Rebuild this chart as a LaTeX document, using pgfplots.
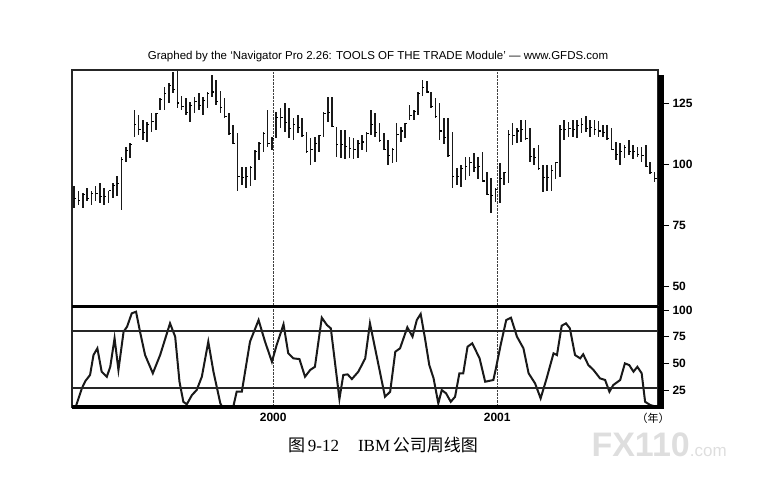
\documentclass[border=0pt]{standalone}
\usepackage{pgfplots}
\pgfplotsset{compat=1.18}
\usepackage{pgfplotstable}
\usepackage{fontspec}
\setmainfont{Liberation Sans}
\newfontfamily\serif{Liberation Serif}
\newfontfamily\cjk{Noto Sans CJK SC}

% weekly bars: week, high, low, close
\pgfplotstableread{
w h l c
0 91 82 86
1 89 83 85
2 88 82 87.5
3 90 85 86
4 89 83 88
5 91 85 88
6 92 84 86.5
7 90 83 86.5
8 89 84 89
9 92 86 91
10 95 87 92
11 103 81 102
12 107 101 105.5
13 108.6 102.5 108
14 122 111 116
15 120 112 114
16 118 110 113
17 117 109 116
18 121 113 117.5
19 121 114 120.5
20 127 122 126.5
21 131.5 122 129
22 133 125 132
23 137.7 129 130.5
24 138 123 125
25 128 122 123.5
26 127 120 121
27 125.4 117 124
28 127.5 121 125.5
29 129 122 124
30 127.5 120 126
31 129.5 123 129
32 136.5 127.5 129.5
33 134.4 124 125.5
34 130 121 123
35 127 119 119.5
36 121 112 112.5
37 116 108 108.5
38 112.7 89 95
39 98.8 91.4 94.5
40 98.8 90 95
41 99 91 98.5
42 105.7 93.4 105
43 109 101.6 108.5
44 113 105 112.5
45 122 107 108.5
46 111 105.7 110.5
47 121.3 110.6 119
48 123 114.8 119
49 125 113 117
50 123 110.6 114.5
51 119 110 116
52 120 112.7 115
53 119 111 111.5
54 113 104.5 105
55 110.6 99.6 106
56 111 101 108.5
57 112 105 111.5
58 121.3 111 120.5
59 127.5 117 121
60 127.5 115 115.5
61 115 103 108
62 114 102.5 108
63 114 102 107
64 111 102.5 106.5
65 110.6 102 106
66 110 102.5 108.5
67 112 105.7 109
68 113 105 112.5
69 122 112 116
70 121 111 113
71 116.8 109 109.5
72 112.7 105.7 106
73 110 99.6 103.5
74 106.5 100.4 106
75 116.8 101 112
76 115 109 113.5
77 116.8 110.6 116.5
78 124 118 120
79 122 118 121.5
80 129.5 120 129
81 134.4 128 131.5
82 134 129 129.5
83 129.5 123 123.5
84 127 119 119.5
85 125 110 113.5
86 119 108 111
87 119 103 103.5
88 113 90 94.9
89 98.4 91.4 95
90 99.6 90.6 98
91 103 93.4 99
92 103 95 100.5
93 104.5 96.7 98.5
94 103 94 98.8
95 105 92.6 93
96 96.7 87.3 87.5
97 94.2 80 87
98 90 84.4 89.5
99 100.4 84 94
100 96.7 91.4 96.5
101 114 92 112
102 116.8 107.8 111.5
103 114.8 108.6 113.5
104 118 109 114
105 118 110 110.5
106 114.8 100.8 103
107 106.5 99.6 102.5
108 107.8 97.5 98
109 99.6 88.5 94.3
110 99.6 89 94.3
111 99.6 89 97.4
112 100.8 94 100.5
113 116 94.6 114
114 118 110 114
115 117 111 114.5
116 118 111 114.3
117 118 110.6 115.8
118 119 112.7 116.2
119 119.5 113 114.5
120 118 111 115
121 118 112 114.3
122 117.6 111 113.5
123 116 111 113
124 116 110 110.3
125 114.8 105.7 106
126 109 101.6 104
127 108.6 99.6 105.2
128 107.8 102.5 106.8
129 110 103.7 105
130 107.8 102 105
131 107 103 104
132 107 101 103.3
133 107.8 98.8 99
134 100.8 96.3 96.5
135 96.7 92.6 94
}\pricedata

% stochastic oscillator
\pgfplotstableread{
w k
0.5 10.9
1.8 26.6
2.6 33.4
3.7 39.1
4.5 57.8
5.4 64.1
6.4 42.2
7.6 37.5
8.4 46.8
9.4 73.5
10.3 43.8
11.5 79.7
12.3 84.3
13.4 96.9
14.4 98.4
15.4 78.2
16.5 57.8
18.3 40.7
20.0 57.8
22.3 87.5
23.5 75.0
24.5 32.8
25.4 14.0
26.2 11.6
27.4 20.3
28.5 25.0
29.7 37.5
31.2 70.3
32.4 42.2
34.0 12.5
35.0 5
36.5 5
37.1 10.9
37.8 23.4
39.0 23.4
40.9 70.3
42.9 90.6
44.4 70.3
46.0 51.5
47.1 67.2
48.7 86.6
49.8 59.4
51.0 54.7
52.4 54.0
53.7 37.5
54.9 43.8
56.0 46.8
57.6 92.8
58.8 85.9
59.7 82.8
61.7 16.6
62.6 39.1
63.6 39.7
64.6 35.3
66.1 42.2
67.7 54.7
68.8 87.5
70.4 56.2
72.3 18.7
73.5 23.4
74.7 60.9
75.8 64.1
77.5 83.8
78.7 75.0
79.7 90.6
80.6 96.3
81.6 73.5
82.6 48.4
83.6 36.0
84.7 12.5
85.5 25.0
86.5 21.9
87.6 14.0
88.6 18.7
89.6 40.7
90.5 40.7
91.5 65.6
92.6 68.8
94.3 54.7
95.6 32.8
97.5 34.4
98.1 45.3
99.2 67.2
100.5 90.6
101.6 92.8
103.0 75.0
104.5 64.1
105.7 40.7
107.2 31.3
108.5 17.2
109.9 36.0
111.5 59.4
112.3 57.8
113.4 85.3
114.4 87.5
115.3 82.8
116.5 57.8
117.7 54.7
118.4 58.5
119.6 48.4
120.8 43.8
122.3 36.0
123.5 34.4
124.5 23.4
125.4 29.7
127.0 34.4
128.1 50.0
129.1 48.4
130.1 42.2
131.0 46.8
132.0 40.7
132.8 14.0
134.0 10.9
135.5 9.3
}\stochdata

\pgfdeclareplotmark{closetick}{%
  \pgfpathmoveto{\pgfqpoint{0pt}{0pt}}%
  \pgfpathlineto{\pgfqpoint{2pt}{0pt}}%
  \pgfusepathqstroke}

\pgfplotsset{
  panel/.style={
    scale only axis, width=586pt,
    xmin=-0.5, xmax=135.8,
    axis line style={line width=1.4pt, black!85},
    xtick={46.3,98.4}, xtick style={draw=none},
    xmajorgrids, major x grid style={densely dotted, line width=0.9pt, black!75},
    ytick pos=right, yticklabel pos=right,
    tick align=outside, major tick length=11pt,
    ytick style={line width=0.8pt, black},
    /pgf/number format/assume math mode=true,
    ticklabel style={font=\fontsize{12}{13}\selectfont\bfseries},
    xticklabel style={yshift=8pt},
    clip mode=individual,
  },
}

\begin{document}
\begin{tikzpicture}
\useasboundingbox (0,0) rectangle (773pt,499pt);

\node[font=\fontsize{11.5}{13}\selectfont] at (378pt,442pt)
  {Graphed by the ‘Navigator Pro 2.26: TOOLS OF THE TRADE Module’ — www.GFDS.com};

% price panel
\begin{axis}[panel,
  at={(72pt,193pt)}, anchor=south west, height=236pt,
  ymin=41.8, ymax=138.5, ytick={50,75,100,125},
  xticklabels={},
]
\addplot[only marks, mark=closetick, mark options={line width=1.1pt, black},
  error bars/.cd, y dir=both, y explicit, error mark=none,
  error bar style={line width=1.6pt, black!90}]
  table[x=w, y=c, y error plus expr=\thisrow{h}-\thisrow{c},
        y error minus expr=\thisrow{c}-\thisrow{l}] {\pricedata};
\draw[line width=6pt, black] ([xshift=3pt]rel axis cs:1,0) -- ([xshift=3pt]rel axis cs:1,0.98);
\end{axis}

% stochastic panel
\begin{axis}[panel,
  at={(72pt,92pt)}, anchor=south west, height=101pt,
  ymin=9.1, ymax=103.75, ytick={25,50,75,100},
  xticklabels={2000,2001},
]
\addplot[line width=2pt, black!90] table[x=w, y=k] {\stochdata};
\draw[line width=1.4pt, black!85] (axis cs:-0.5,80.3) -- (axis cs:135.8,80.3);
\draw[line width=1.2pt, black!85] (axis cs:-0.5,27) -- (axis cs:135.8,27);
\draw[line width=3pt, black] (rel axis cs:0,1) -- (rel axis cs:1,1);
\draw[line width=4.5pt, black] (rel axis cs:0,0) -- ([xshift=6pt]rel axis cs:1,0);
\draw[line width=6pt, black] ([xshift=3pt]rel axis cs:1,0) -- ([xshift=3pt]rel axis cs:1,1);
\end{axis}

\node[font=\cjk\fontsize{11}{12}\selectfont] at (653pt,81pt) {（年）};

\node[font=\fontsize{17}{19}\selectfont] at (383pt,54pt)
  {{\cjk 图}\,{\serif 9-12}\hspace{19pt}{\serif IBM}\,{\cjk 公司周线图}};

\node[text=black!13, anchor=west] at (588pt,54pt)
  {{\fontsize{34}{34}\selectfont\bfseries FX110}{\fontsize{17}{17}\selectfont .com}};
\end{tikzpicture}
\end{document}
